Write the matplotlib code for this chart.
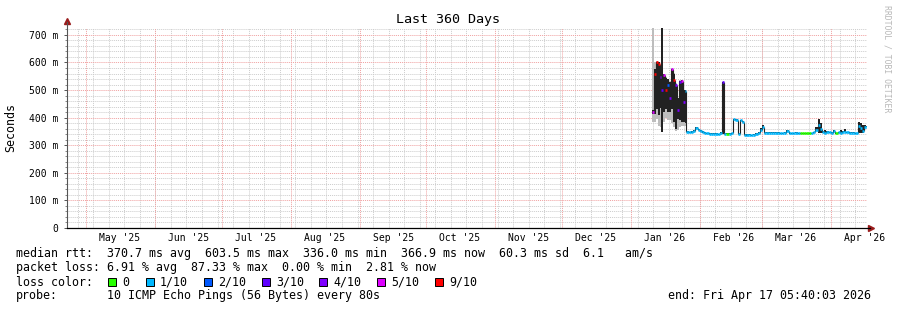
import numpy as np
import matplotlib
matplotlib.use("Agg")
import matplotlib.pyplot as plt
import matplotlib.dates as mdates
import matplotlib.transforms as mtransforms
from matplotlib.patches import Rectangle
from datetime import datetime

W, H = 897, 310
plt.rcParams['font.family'] = ['DejaVu Sans Mono', 'DejaVu Sans']

# graph window
start = datetime(2025, 4, 22, 5, 40, 3)
end = datetime(2026, 4, 17, 5, 40, 3)
day0 = datetime(2026, 1, 1)   # data times are days since this date

# january, lossy period (irregular steps)
jan_t = [9.4, 10.3, 11.2, 12.1, 13.0, 13.7, 14.3, 15.2, 16.1, 17.0, 17.9, 18.8,
         19.7, 20.6, 21.5, 22.4, 23.3, 24.2]
jan_median = [420, 560, 600, 596, 548, 500, 555, 500, 519, 470, 576, 537,
              520, 428, 530, 534, 457, 498]
jan_loss = [5, 9, 9, 9, 4, 3, 5, 9, 2, 4, 5, 9, 4, 4, 3, 5, 4, 1]
jan_smoke_lo = [412, 415, 430, 410, 435, 348, 420, 430, 422, 421, 430, 385,
                359, 395, 390, 385, 385, 380]
jan_smoke_hi = [428, 575, 603, 600, 560, 725, 557, 545, 540, 530, 577, 560,
                522, 470, 532, 535, 500, 500]
jan_fringe_lo = [385, 385, 395, 370, 365, 348, 385, 400, 392, 390, 380, 365,
                 350, 355, 365, 370, 370, 370]
jan_fringe_hi = [725, 600, 606, 602, 560, 725, 560, 548, 540, 532, 580, 562,
                 525, 470, 535, 538, 502, 500]

# daily values from day 25 to day 106
base_first_day = 25
base_median = [349, 347, 348, 352, 362, 356, 352, 348, 346, 344,   # 25-34
               342, 341, 341, 341, 340, 345, 528, 341, 341, 342,   # 35-44
               343, 394, 392, 342, 390, 385, 338, 337, 338, 336,   # 45-54
               338, 341, 345, 355, 366, 346, 345, 346, 345, 346,   # 55-64
               345, 346, 344, 343, 345, 350, 344, 344, 344, 345,   # 65-74
               344, 343, 343, 343, 343, 343, 344, 347, 355, 372,   # 75-84
               360, 348, 346, 348, 347, 346, 350, 344, 347, 346,   # 85-94
               348, 349, 347, 346, 345, 346, 344, 368, 362, 352,   # 95-104
               366, 367]                                           # 105-106
base_loss = [1, 1, 1, 1, 1, 1, 1, 1, 1, 1,
             1, 1, 1, 1, 1, 1, 3, 1, 0, 1,
             1, 1, 1, 1, 1, 1, 1, 1, 1, 1,
             1, 1, 1, 1, 1, 1, 1, 1, 1, 1,
             1, 1, 1, 1, 1, 1, 1, 1, 1, 1,
             1, 0, 0, 0, 0, 0, 1, 1, 1, 1,
             1, 1, 1, 1, 1, 1, 1, 0, 1, 1,
             1, 1, 1, 1, 1, 1, 1, 1, 1, 1,
             1, 1]
base_smoke_lo = [347, 345, 346, 350, 360, 354, 350, 346, 344, 342,
                 340, 339, 339, 339, 338, 343, 342, 339, 339, 340,
                 341, 392, 390, 340, 388, 383, 336, 335, 336, 334,
                 336, 339, 343, 353, 364, 344, 343, 344, 343, 344,
                 343, 344, 342, 341, 343, 348, 342, 342, 342, 343,
                 342, 341, 341, 341, 341, 341, 342, 345, 353, 345,
                 345, 346, 344, 346, 345, 344, 348, 342, 345, 344,
                 346, 347, 345, 344, 343, 344, 342, 345, 345, 345,
                 364, 365]
base_smoke_hi = [351, 349, 350, 356, 366, 358, 354, 350, 348, 346,
                 344, 343, 343, 343, 342, 347, 530, 343, 343, 344,
                 345, 396, 396, 344, 393, 388, 340, 339, 340, 338,
                 340, 343, 347, 362, 372, 348, 347, 348, 347, 348,
                 347, 348, 346, 345, 347, 355, 346, 346, 346, 347,
                 346, 345, 345, 345, 345, 345, 346, 349, 365, 395,
                 380, 350, 355, 350, 349, 348, 357, 346, 349, 356,
                 350, 360, 349, 348, 347, 348, 346, 386, 380, 374,
                 372, 369]

loss_keys = [0, 1, 2, 3, 4, 5, 9]
loss_labels = ['0', '1/10', '2/10', '3/10', '4/10', '5/10', '9/10']
loss_colors = ['#26ff00', '#00b8ff', '#0059ff', '#5e00ff', '#7e00ff', '#dd00ff', '#ff0000']
cmap = dict(zip(loss_keys, loss_colors))

# assemble steps
base_t = list(range(base_first_day, base_first_day + len(base_median)))
t = np.array(jan_t + base_t, dtype=float)
t_end = np.append(t[1:], (end - day0).total_seconds() / 86400)
median = np.array(jan_median + base_median, dtype=float)
loss = jan_loss + base_loss
smoke_lo = np.array(jan_smoke_lo + base_smoke_lo, dtype=float)
smoke_hi = np.array(jan_smoke_hi + base_smoke_hi, dtype=float)

x0 = mdates.date2num(day0)
x = x0 + t
w = t_end - t

fig = plt.figure(figsize=(W / 100, H / 100), dpi=100)
ax = fig.add_axes([67 / W, (H - 228) / H, 800 / W, 200 / H])
ax.set_xlim(mdates.date2num(start), mdates.date2num(end))
ax.set_ylim(0, 725)
for s in ax.spines.values():
    s.set_visible(False)

# grid
dot = (0, (1, 1))
ax.hlines([v for v in range(20, 725, 20) if v % 100], *ax.get_xlim(), colors='#cccccc', lw=0.7, ls=dot, zorder=0)
weeks = mdates.WeekdayLocator(byweekday=mdates.SU).tick_values(start, end)
ax.vlines(weeks, 0, 725, colors='#cccccc', lw=0.7, ls=dot, zorder=0)
ax.hlines(range(100, 800, 100), *ax.get_xlim(), colors='#f0a0a0', lw=0.7, ls=dot, zorder=1)
months = mdates.MonthLocator().tick_values(start, end)
ax.vlines(months, 0, 725, colors='#f0a0a0', lw=0.7, ls=dot, zorder=1)

# smoke
jn = len(jan_t)
ax.bar(x[:jn], np.array(jan_fringe_hi) - np.array(jan_fringe_lo), bottom=jan_fringe_lo,
       width=w[:jn], align='edge', color='#bdbdbd', linewidth=0, zorder=2)
ax.bar(x, smoke_hi - smoke_lo, bottom=smoke_lo, width=w, align='edge',
       color='#222222', linewidth=0, zorder=3)

# median, coloured by loss
ax.vlines(x[1:], median[:-1], median[1:], colors='#222222', lw=0.8, zorder=4)
ax.hlines(median, x, x + w, colors=[cmap[l] for l in loss], lw=1.9, zorder=5)

# y axis
ax.yaxis.set_major_locator(matplotlib.ticker.MultipleLocator(100))
ax.yaxis.set_minor_locator(matplotlib.ticker.MultipleLocator(20))
ax.yaxis.set_major_formatter(matplotlib.ticker.FuncFormatter(
    lambda v, p: '0' if v == 0 else f'{int(v)} m'))
ax.tick_params(axis='y', which='major', length=2, width=0.7, color='#555555', pad=4.5, labelsize=7)
ax.tick_params(axis='y', which='minor', length=1.5, width=0.7, color='#888888')
ax.set_xticks([])

# month labels at mid-month
trans = mtransforms.blended_transform_factory(ax.transData, ax.transAxes)
for m in months:
    mid = m + 15
    if mid < mdates.date2num(end):
        label = mdates.num2date(m).strftime("%b '%y")
        ax.text(mid, -0.05, label, transform=trans, ha='center', va='center', fontsize=7)

# axes lines and arrows
ax.plot([0, 0], [0, 1.03], transform=ax.transAxes, color='#555555', lw=0.8, clip_on=False, zorder=6)
ax.plot([0, 1.004], [0, 0], transform=ax.transAxes, color='black', lw=0.9, clip_on=False, zorder=6)
ax.plot([0], [1.035], marker='^', ms=4.5, color='#9a1c1c', transform=ax.transAxes, clip_on=False)
ax.plot([1.005], [0], marker='>', ms=4.5, color='#9a1c1c', transform=ax.transAxes, clip_on=False)

def fx(px):
    return px / W

def fy(py):
    return 1 - py / H

fig.text(fx(448), fy(19), 'Last 360 Days', ha='center', va='center', fontsize=9.6)
fig.text(fx(11), fy(127), 'Seconds', rotation=90, ha='center', va='center', fontsize=8.4)
fig.text(fx(887), fy(5), 'RRDTOOL / TOBI OETIKER', rotation=270, ha='center', va='top',
         fontsize=5.9, color='#b8b8b8')

fs = 8.4
fig.text(fx(16), fy(254), 'median rtt:  370.7 ms avg  603.5 ms max  336.0 ms min  366.9 ms now  60.3 ms sd  6.1   am/s',
         va='center', fontsize=fs)
fig.text(fx(16), fy(268), 'packet loss: 6.91 % avg  87.33 % max  0.00 % min  2.81 % now',
         va='center', fontsize=fs)
fig.text(fx(16), fy(282), 'loss color:', va='center', fontsize=fs)
box_x = [108, 146, 204, 262, 319, 377, 435]
for bx, lab, col in zip(box_x, loss_labels, loss_colors):
    fig.patches.append(Rectangle((fx(bx), fy(286)), 8 / W, 8 / H, transform=fig.transFigure,
                                 facecolor=col, edgecolor='black', lw=0.7))
    fig.text(fx(bx + 14), fy(282), lab, va='center', fontsize=fs)
fig.text(fx(16), fy(296), 'probe:', va='center', fontsize=fs)
fig.text(fx(107), fy(296), '10 ICMP Echo Pings (56 Bytes) every 80s', va='center', fontsize=fs)
fig.text(fx(871), fy(296), 'end: Fri Apr 17 05:40:03 2026', ha='right', va='center', fontsize=fs)

fig.savefig('out.png', dpi=100)
